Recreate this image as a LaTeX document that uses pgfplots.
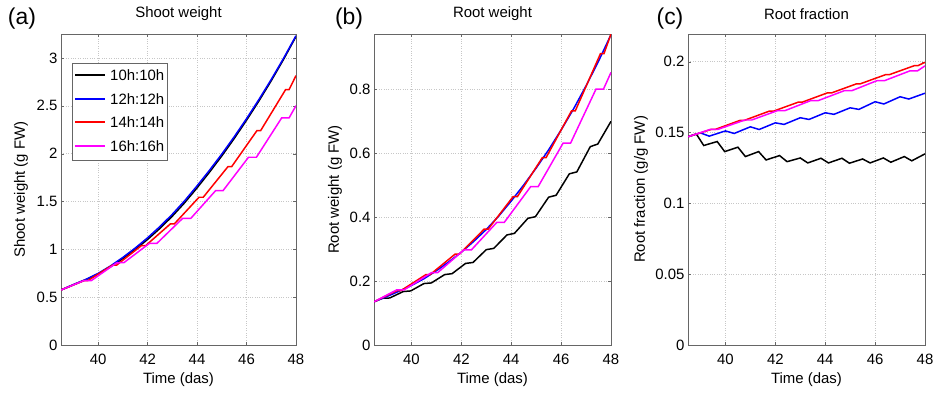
\documentclass[border=0pt]{standalone}
\usepackage{fontspec}
\setmainfont{Liberation Sans}
\usepackage{pgfplots}
\pgfplotsset{compat=1.18}
\definecolor{mag}{rgb}{1,0,1}
\definecolor{lred}{rgb}{1,0,0}
\newcommand{\lgline}[1]{\textcolor{#1}{\rule[4.6bp]{30bp}{1.8bp}}\hspace{5bp}}
\pgfplotsset{
 panel/.style={
  scale only axis, height=311bp,
  xmin=38.5, xmax=48, xtick={40,42,44,46,48},
  grid=major, major grid style={dotted, black!22},
  axis line style={black!60}, tick style={black!60},
  tick align=inside, major tick length=3bp,
  tick label style={font=\fontsize{15}{18}\selectfont},
  label style={font=\fontsize{15}{18}\selectfont},
  every axis title shift=0pt,
  title style={font=\fontsize{15}{18}\selectfont, at={(axis description cs:0.5,1.064)}, anchor=center},
  /pgf/number format/assume math mode=true,
  scaled y ticks=false,
  yticklabel style={/pgf/number format/fixed},
  xticklabel style={yshift=-6bp},
  xlabel={Time (das)},
  xlabel style={at={(axis description cs:0.5,-0.1125)}, anchor=center},
  every axis plot/.append style={line width=1.5pt},
 }
}
\begin{document}
\begin{tikzpicture}[x=1bp,y=1bp]
\path[use as bounding box] (0,0) rectangle (935,395);
% ---------------- (a) Shoot weight
\begin{axis}[panel, at={(61bp,50bp)}, anchor=south west, width=235bp,
  ymin=0, ymax=3.25, ytick={0,0.5,1,1.5,2,2.5,3},
  title={Shoot weight}, ylabel={Shoot weight (g FW)},
  ylabel style={at={(axis description cs:-0.170,0.5)}, anchor=center},
  legend style={at={(axis description cs:0.047,0.908)}, anchor=north west,
    draw=black!60, font=\fontsize{15}{18}\selectfont, row sep=7.2bp,
    inner xsep=1bp, inner ysep=5bp, nodes={inner sep=2bp}},
  legend image code/.code={},
  legend cell align=left]
\addplot[black] coordinates {(38.5,0.575)(39,0.628)(39.5,0.682)(40,0.742)(40.5,0.817)(41,0.903)(41.5,0.998)(42,1.103)(42.5,1.219)(43,1.346)(43.5,1.487)(44,1.642)(44.5,1.805)(45,1.976)(45.5,2.157)(46,2.349)(46.5,2.55)(47,2.762)(47.5,2.986)(48,3.224)};
\addplot[blue] coordinates {(38.5,0.575)(39,0.632)(39.5,0.685)(40,0.748)(40.5,0.826)(41,0.915)(41.5,1.013)(42,1.12)(42.5,1.238)(43,1.366)(43.5,1.508)(44,1.663)(44.5,1.825)(45,1.995)(45.5,2.175)(46,2.365)(46.5,2.565)(47,2.775)(47.5,2.997)(48,3.232)};
\addplot[lred] coordinates {(38.5,0.575)(39.42,0.672)(39.58,0.672)(40.58,0.835)(40.75,0.835)(41.75,1.038)(41.92,1.038)(42.92,1.265)(43.08,1.265)(44.08,1.544)(44.25,1.544)(45.25,1.864)(45.4,1.864)(46.42,2.24)(46.57,2.24)(47.58,2.669)(47.72,2.669)(48,2.815)};
\addplot[mag] coordinates {(38.5,0.575)(39.42,0.672)(39.72,0.672)(40.75,0.858)(41.05,0.862)(42.08,1.063)(42.38,1.063)(43.42,1.324)(43.75,1.324)(44.75,1.613)(45.05,1.613)(46.08,1.962)(46.4,1.962)(47.42,2.373)(47.72,2.373)(48,2.501)};
\legend{\lgline{black}10h:10h,\lgline{blue}12h:12h,\lgline{lred}14h:14h,\lgline{mag}16h:16h}
\end{axis}
% ---------------- (b) Root weight
\begin{axis}[panel, at={(374bp,50bp)}, anchor=south west, width=237bp,
  ymin=0, ymax=0.972, ytick={0,0.2,0.4,0.6,0.8},
  title={Root weight}, ylabel={Root weight (g FW)},
  ylabel style={at={(axis description cs:-0.165,0.5)}, anchor=center}]
\addplot[black] coordinates {(38.5,0.135)(38.83,0.146)(39.13,0.147)(39.67,0.167)(39.97,0.169)(40.5,0.192)(40.8,0.194)(41.33,0.220)(41.63,0.223)(42.17,0.255)(42.47,0.258)(43.0,0.298)(43.3,0.302)(43.83,0.344)(44.13,0.349)(44.67,0.396)(44.97,0.401)(45.5,0.462)(45.8,0.468)(46.33,0.535)(46.63,0.541)(47.17,0.620)(47.47,0.628)(48,0.699)};
\addplot[blue] coordinates {(38.5,0.135)(39,0.151)(39.5,0.168)(40,0.186)(40.5,0.207)(41,0.232)(41.5,0.260)(42,0.290)(42.5,0.324)(43,0.361)(43.5,0.403)(44,0.450)(44.5,0.500)(45,0.553)(45.5,0.610)(46,0.672)(46.5,0.738)(47,0.810)(47.5,0.887)(48,0.970)};
\addplot[lred] coordinates {(38.5,0.135)(39.42,0.170)(39.58,0.170)(40.58,0.220)(40.75,0.220)(41.75,0.284)(41.92,0.284)(42.92,0.3625)(43.08,0.3625)(44.08,0.464)(44.25,0.464)(45.25,0.586)(45.4,0.586)(46.42,0.732)(46.57,0.732)(47.58,0.911)(47.72,0.911)(48,0.972)};
\addplot[mag] coordinates {(38.5,0.135)(39.4,0.172)(39.7,0.172)(40.8,0.226)(41.05,0.226)(42.1,0.297)(42.4,0.297)(43.42,0.383)(43.72,0.383)(44.78,0.495)(45.08,0.495)(46.08,0.631)(46.38,0.631)(47.4,0.800)(47.7,0.800)(48,0.852)};
\end{axis}
% ---------------- (c) Root fraction
\begin{axis}[panel, at={(688bp,50bp)}, anchor=south west, width=237bp,
  ymin=0, ymax=0.2195, ytick={0,0.05,0.1,0.15,0.2},
  title={Root fraction}, ylabel={Root fraction (g/g FW)},
  ylabel style={at={(axis description cs:-0.198,0.5)}, anchor=center}]
\addplot[black] coordinates {(38.5,0.147)(38.83,0.149)(39.13,0.1408)(39.67,0.1436)(39.97,0.1365)(40.5,0.1396)(40.8,0.133)(41.33,0.1365)(41.63,0.1306)(42.17,0.1337)(42.47,0.1294)(43.0,0.132)(43.3,0.1285)(43.83,0.1318)(44.13,0.1285)(44.67,0.1318)(44.97,0.1283)(45.5,0.1313)(45.8,0.1285)(46.33,0.132)(46.63,0.129)(47.17,0.133)(47.47,0.130)(48,0.1349)};
\addplot[blue] coordinates {(38.5,0.147)(39.0,0.1497)(39.35,0.1474)(40.0,0.1511)(40.35,0.1493)(41.0,0.154)(41.35,0.1521)(42.0,0.1568)(42.35,0.1557)(43.0,0.1604)(43.35,0.1592)(44.0,0.1639)(44.35,0.1628)(45.0,0.1674)(45.35,0.1663)(46.0,0.1717)(46.35,0.1701)(47.0,0.1752)(47.35,0.1736)(48,0.1777)};
\addplot[lred] coordinates {(38.5,0.147)(39.42,0.1521)(39.58,0.1521)(40.58,0.1585)(40.75,0.1585)(41.75,0.1650)(41.92,0.1650)(42.92,0.1714)(43.08,0.1714)(44.08,0.1779)(44.25,0.1779)(45.25,0.1843)(45.4,0.1843)(46.42,0.1908)(46.57,0.1908)(47.58,0.1972)(47.72,0.1972)(48,0.1995)};
\addplot[mag] coordinates {(38.5,0.147)(39.4,0.1522)(39.7,0.1522)(40.78,0.1588)(41.05,0.1588)(42.1,0.1655)(42.4,0.1655)(43.42,0.1725)(43.72,0.1725)(44.78,0.1796)(45.08,0.1796)(46.08,0.1866)(46.38,0.1866)(47.4,0.1935)(47.7,0.1935)(48,0.1970)};
\end{axis}
\node[font=\fontsize{23}{27}\selectfont] at (22,376) {(a)};
\node[font=\fontsize{23}{27}\selectfont] at (349,376) {(b)};
\node[font=\fontsize{23}{27}\selectfont] at (670,376) {(c)};
\end{tikzpicture}
\end{document}
